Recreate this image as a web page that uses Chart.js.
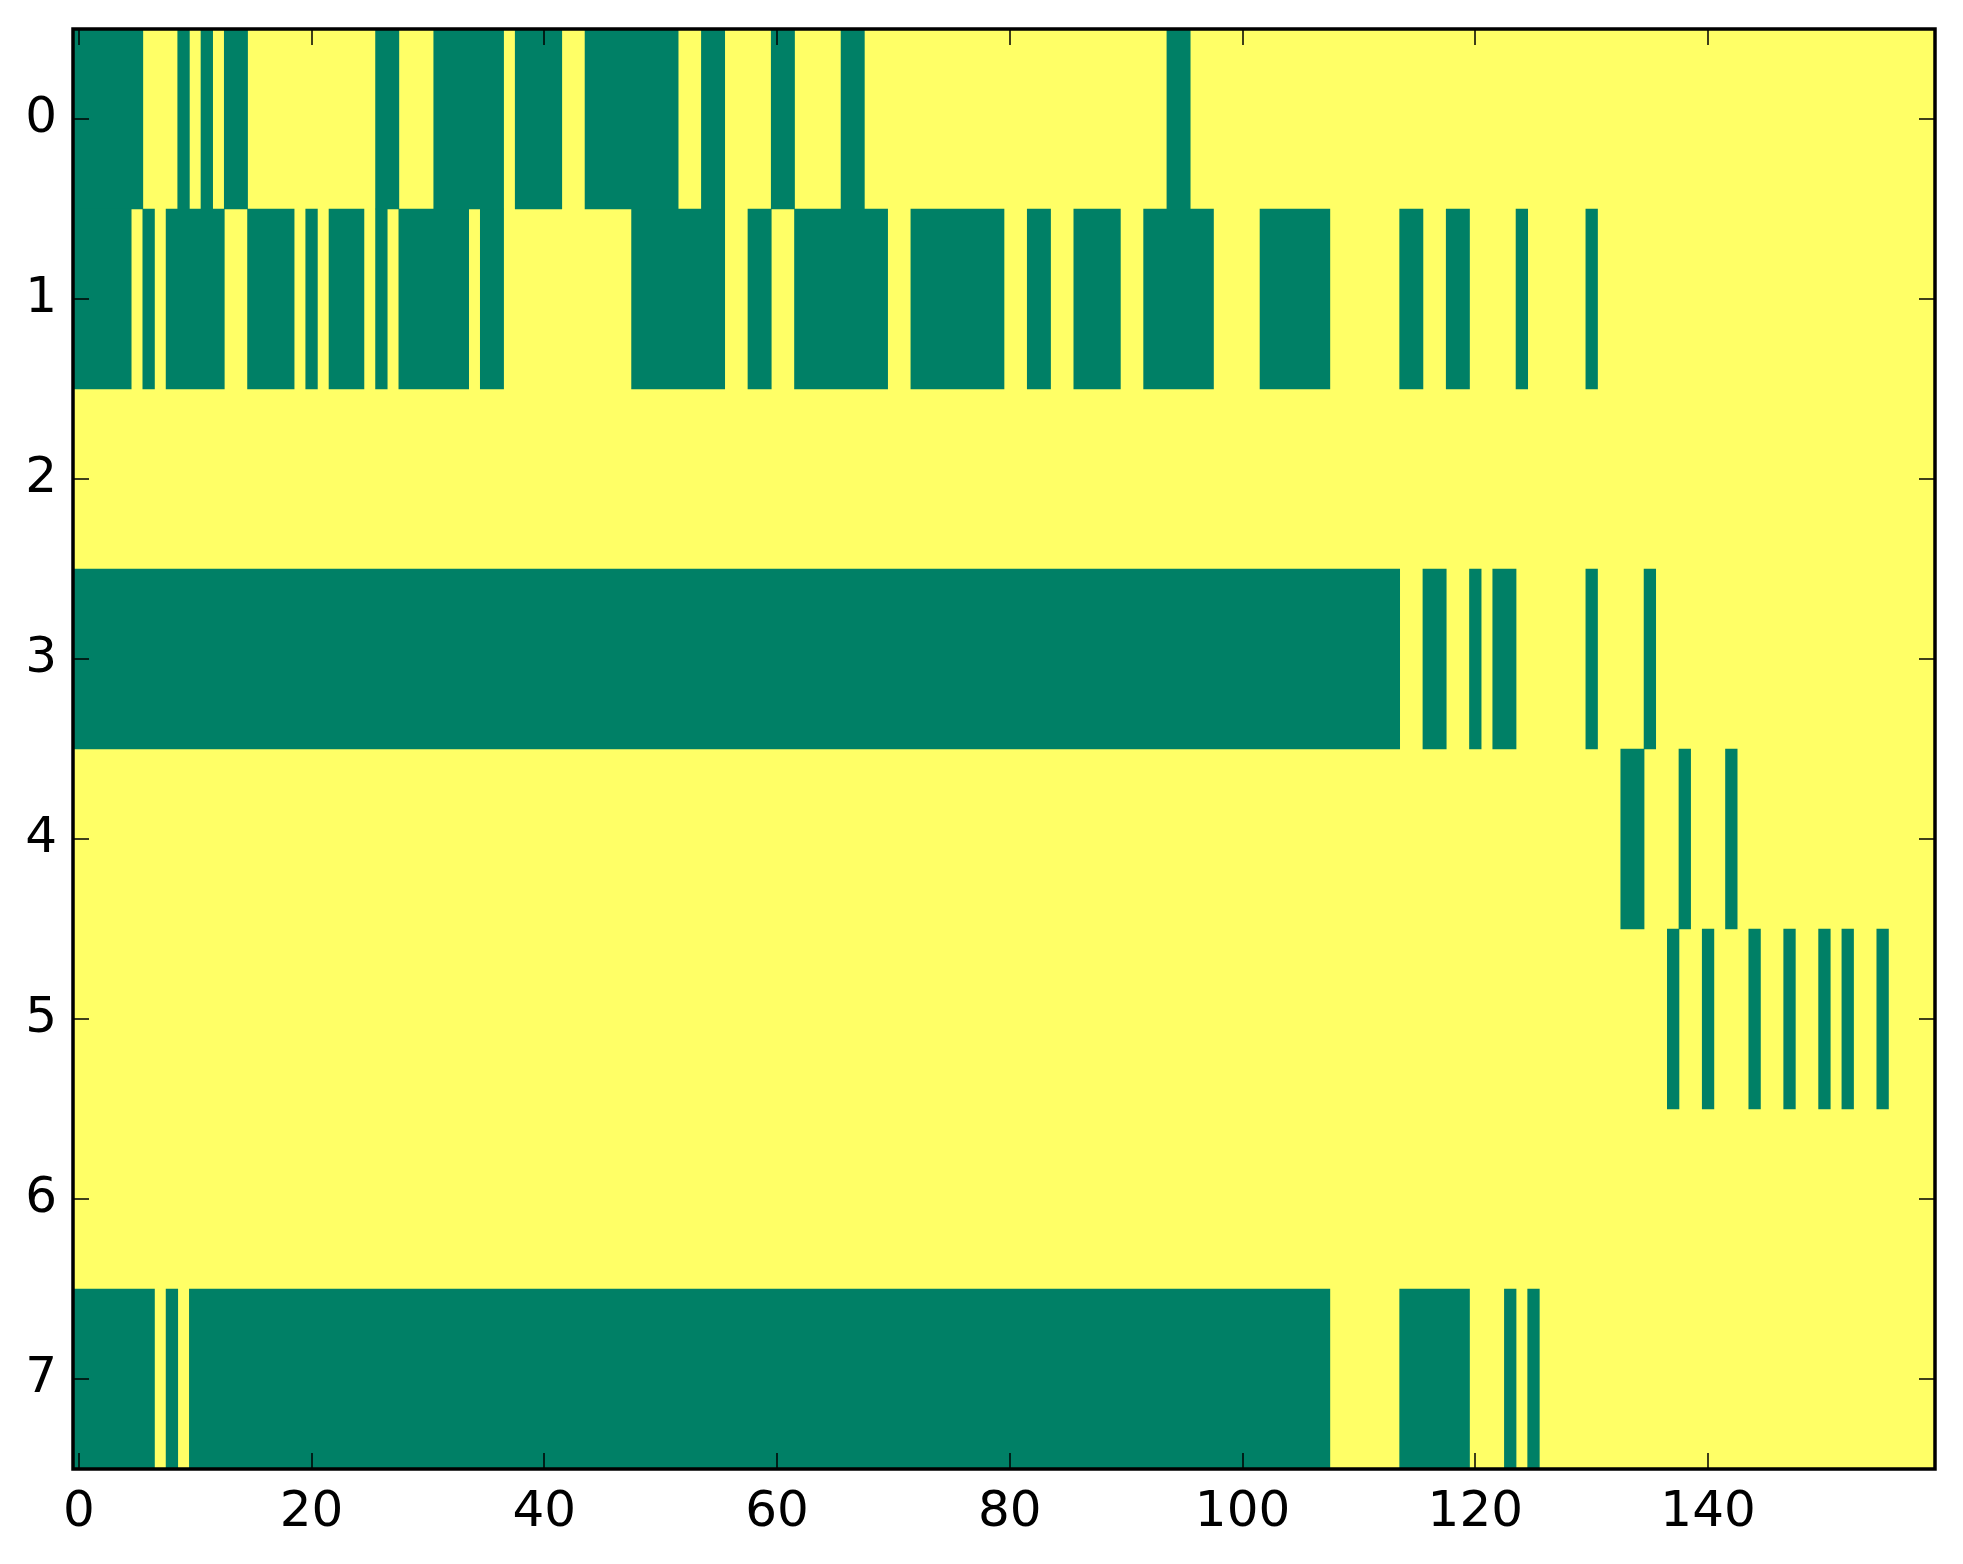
<!DOCTYPE html>
<html>
<head>
<meta charset="utf-8">
<script src="https://cdn.jsdelivr.net/npm/chart.js@4/dist/chart.umd.min.js"></script>
<style>
  body { margin: 0; background: #fff; }
  canvas { display: block; }
</style>
</head>
<body>
<canvas id="grid" width="1963" height="1564"></canvas>
<script>
// row labels, top to bottom
var rowLabels = ['0', '1', '2', '3', '4', '5', '6', '7']
var nCols = 160
var xTickValues = [0, 20, 40, 60, 80, 100, 120, 140]

// green (0) runs per row, [first column, last column]; everything else is yellow (1)
var row0 = [[0,5],[9,9],[11,11],[13,14],[26,27],[31,36],[38,41],[44,51],[54,55],[60,61],[66,67],[94,95]]
var row1 = [[0,4],[6,6],[8,12],[15,18],[20,20],[22,24],[26,26],[28,33],[35,36],[48,55],[58,59],[62,69],[72,79],[82,83],[86,89],[92,97],[102,107],[114,115],[118,119],[124,124],[130,130]]
var row2 = []
var row3 = [[0,113],[116,117],[120,120],[122,123],[130,130],[135,135]]
var row4 = [[133,134],[138,138],[142,142]]
var row5 = [[137,137],[140,140],[144,144],[147,147],[150,150],[152,152],[155,155]]
var row6 = []
var row7 = [[0,6],[8,8],[10,107],[114,119],[123,123],[125,125]]

var rows = [row0, row1, row2, row3, row4, row5, row6, row7]

var green = '#008066'
var yellow = '#ffff66'

var maxRuns = Math.max.apply(null, rows.map(function(r) { return r.length }))
var datasets = []
for (var k = 0; k < maxRuns; k++) {
	datasets.push({
		data: rows.map(function(r) {
			return r[k] ? [r[k][0] - 0.5, r[k][1] + 0.5] : null
		}),
		backgroundColor: green,
		borderWidth: 0,
		borderSkipped: false,
		barPercentage: 1,
		categoryPercentage: 1,
		grouped: false
	})
}

var frame = {
	id: 'frame',
	beforeDraw: function(chart) {
		var a = chart.chartArea, ctx = chart.ctx
		ctx.save()
		ctx.fillStyle = yellow
		ctx.fillRect(a.left, a.top, a.right - a.left, a.bottom - a.top)
		ctx.restore()
	},
	afterDraw: function(chart) {
		var a = chart.chartArea, ctx = chart.ctx
		var x = chart.scales.x, y = chart.scales.y
		var len = 16
		ctx.save()
		ctx.strokeStyle = '#000'
		ctx.lineWidth = 1.5
		ctx.beginPath()
		xTickValues.forEach(function(v) {
			var px = Math.round(x.getPixelForValue(v))
			ctx.moveTo(px, a.bottom); ctx.lineTo(px, a.bottom - len)
			ctx.moveTo(px, a.top); ctx.lineTo(px, a.top + len)
		})
		rowLabels.forEach(function(l, i) {
			var py = Math.round(y.getPixelForValue(i))
			ctx.moveTo(a.left, py); ctx.lineTo(a.left + len, py)
			ctx.moveTo(a.right, py); ctx.lineTo(a.right - len, py)
		})
		ctx.stroke()
		ctx.lineWidth = 3.5
		ctx.strokeRect(a.left, a.top, a.right - a.left, a.bottom - a.top)
		ctx.restore()
	}
}

var chart = new Chart(document.getElementById('grid').getContext('2d'), {
	type: 'bar',
	data: { labels: rowLabels, datasets: datasets },
	options: {
		indexAxis: 'y',
		responsive: false,
		animation: false,
		devicePixelRatio: 1,
		layout: { padding: { top: 29, right: 28, left: 0, bottom: 0 } },
		plugins: { legend: { display: false }, tooltip: { enabled: false } },
		scales: {
			x: {
				type: 'linear',
				min: -0.5,
				max: nCols - 0.5,
				grid: { display: false, drawTicks: false },
				border: { display: false },
				afterBuildTicks: function(s) { s.ticks = xTickValues.map(function(v) { return { value: v } }) },
				afterFit: function(s) { s.height = 95; s.paddingLeft = 0; s.paddingRight = 0 },
				ticks: { color: '#000', padding: 14, maxRotation: 0, autoSkip: false, font: { family: 'DejaVu Sans', size: 50 } }
			},
			y: {
				type: 'category',
				grid: { display: false, drawTicks: false },
				border: { display: false },
				afterFit: function(s) { s.width = 73; s.paddingTop = 0; s.paddingBottom = 0 },
				ticks: { color: '#000', padding: 16, font: { family: 'DejaVu Sans', size: 50 } }
			}
		}
	},
	plugins: [frame]
})
</script>
</body>
</html>
